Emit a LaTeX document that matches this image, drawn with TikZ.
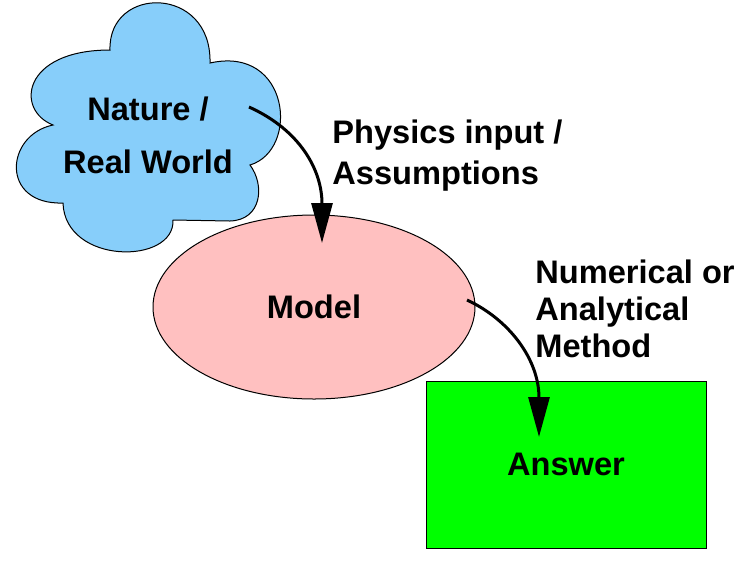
\documentclass[tikz,border=0pt]{standalone}
\usepackage{fontspec}
\setmainfont{Liberation Sans}
\usetikzlibrary{shapes.geometric,arrows.meta}
\definecolor{cloudblue}{RGB}{135,206,250}
\definecolor{modelpink}{RGB}{255,192,192}
\definecolor{answergreen}{RGB}{0,255,0}
\begin{document}
\begin{tikzpicture}[x=0.5pt,y=-0.5pt]
    \tikzstyle{lbl}=[font=\bfseries\fontsize{16.3}{20.5}\selectfont, inner sep=0pt]
    \tikzstyle{flow}=[line width=1.5pt, -{Triangle[length=20pt,width=10.5pt]}]
    \useasboundingbox (0,0) rectangle (756,564);
    % the cloud
    \filldraw[fill=cloudblue, draw=black, line width=0.5pt] (53,125)
      .. controls (15,110) and (22,50) .. (110,50)
      .. controls (108,-15) and (212,-15) .. (210,63)
      .. controls (290,45) and (300,150) .. (250,165)
      .. controls (265,185) and (262,220) .. (230,221) -- (173,220)
      .. controls (175,265) and (65,265) .. (63,203)
      .. controls (0,205) and (5,135) .. cycle;
    \node[lbl, align=center, anchor=base, font=\bfseries\fontsize{16.3}{26.5}\selectfont] (nature) at (148,173) {Nature /\\Real World};
    \node[lbl, ellipse, fill=modelpink, draw=black, line width=0.5pt, minimum width=161pt, minimum height=92pt] (model) at (314,307) {Model};
    \node[lbl, rectangle, fill=answergreen, draw=black, line width=0.5pt, minimum width=140pt, minimum height=83.5pt] (answer) at (566,464.5) {Answer};
    \node[lbl, align=left, anchor=base west] (physics) at (332,184) {Physics input /\\Assumptions};
    \node[lbl, align=left, anchor=base west, font=\bfseries\fontsize{16.3}{18.5}\selectfont] (method) at (535,357) {Numerical or\\Analytical\\Method};
    \coordinate (physfrom) at (249,107);
    \coordinate (physto) at (322,243);
    \coordinate (methfrom) at (467,300);
    \coordinate (methto) at (539,437);
    \draw[flow] (physfrom) .. controls (300,130) and (322,170) .. (physto);
    \draw[flow] (methfrom) .. controls (510,320) and (539,360) .. (methto);
    %\draw (nature) (model) (answer);
\end{tikzpicture}
\end{document}
